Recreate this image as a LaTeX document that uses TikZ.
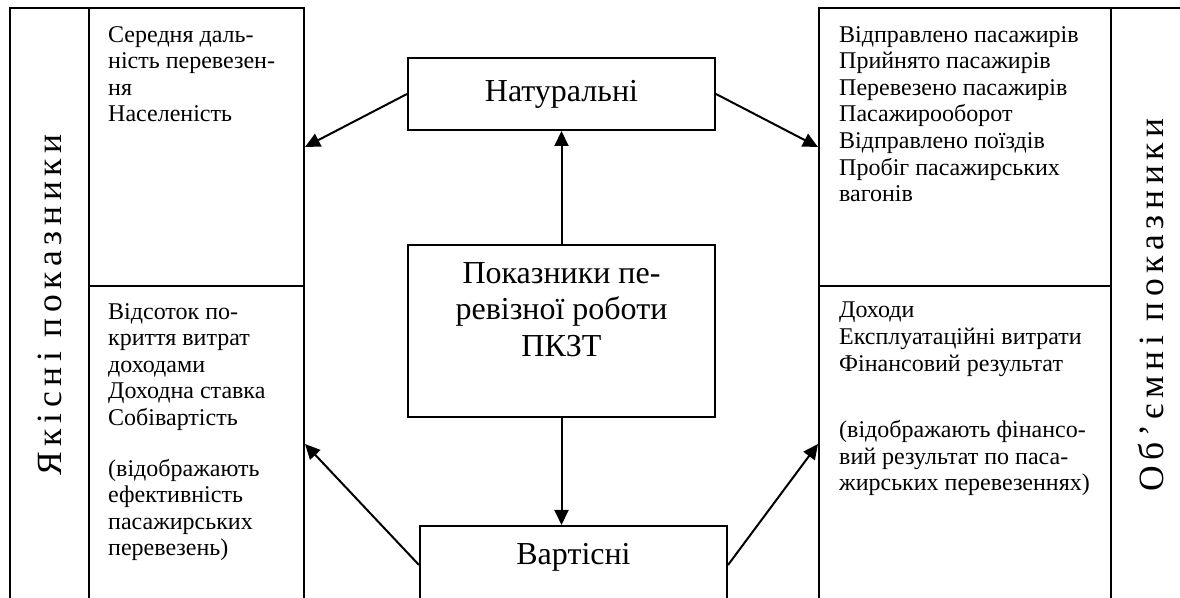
\documentclass[tikz,border=0pt]{standalone}
\usepackage{fontspec}
\setmainfont{Liberation Serif}
\newfontfamily\spacedfont[LetterSpace=16]{Liberation Serif}
\usetikzlibrary{arrows.meta, positioning, calc}

\tikzset{
  cell/.style={draw, line width=2bp, inner sep=0pt},
  sidecell/.style={cell, minimum width=79bp, minimum height=594bp,
    font=\fontsize{35.5bp}{40bp}\spacedfont},
  listtext/.style={anchor=north west, inner sep=0pt, align=left,
    font=\fontsize{24bp}{26.6bp}\selectfont},
  bigbox/.style={cell, minimum width=307bp},
  bigtext/.style={inner sep=0pt, align=center,
    font=\fontsize{32bp}{36.5bp}\selectfont},
  arr/.style={line width=2bp, -{Triangle[length=15bp,width=14bp]}}
}

\begin{document}
\begin{tikzpicture}[x=1bp, y=1bp]
  \useasboundingbox (0,0) rectangle (1180,598);
  \clip (0,0) rectangle (1180,598);

  % side columns
  \node[sidecell] (yakisni) at (49.5,293) {\rotatebox{90}{Якісні показники}};
  \node[sidecell] (obiemni) at (1150.5,293) {\rotatebox{90}{Об’ємні показники}};

  % list cells
  \node[cell, minimum width=215bp, minimum height=278bp] (yakisnitop) at (196.5,451) {};
  \node[cell, minimum width=215bp, minimum height=316bp] (yakisnibot) at (196.5,154) {};
  \node[cell, minimum width=292bp, minimum height=278bp] (obiemnitop) at (965,451) {};
  \node[cell, minimum width=292bp, minimum height=316bp] (obiemnibot) at (965,154) {};

  \node[listtext] (yakisnitoptext) at ([xshift=20bp,yshift=-19bp]yakisnitop.north west)
    {Середня даль-\\ність перевезен-\\ня\\Населеність};
  \node[listtext] (yakisnibottext) at ([xshift=20bp,yshift=-18bp]yakisnibot.north west)
    {Відсоток по-\\криття витрат\\доходами\\Доходна ставка\\Собівартість\\[24bp]
     (відображають\\ефективність\\пасажирських\\перевезень)};
  \node[listtext] (obiemnitoptext) at ([xshift=21bp,yshift=-19bp]obiemnitop.north west)
    {Відправлено пасажирів\\Прийнято пасажирів\\Перевезено пасажирів\\Пасажирооборот\\
     Відправлено поїздів\\Пробіг пасажирських\\вагонів};
  \node[listtext] (obiemnibottext) at ([xshift=21bp,yshift=-17bp]obiemnibot.north west)
    {Доходи\\Експлуатаційні витрати\\Фінансовий результат\\[40bp]
     (відображають фінансо-\\вий результат по паса-\\жирських перевезеннях)};

  % middle column
  \node[bigbox, minimum height=72bp, bigtext] (naturalni) at (561.5,504) {Натуральні};
  \node[bigbox, minimum height=172bp] (pokaznyky) at (561.5,267) {};
  \node[bigtext, anchor=north] (pokaznykytext) at ([yshift=-18bp]pokaznyky.north)
    {Показники пе-\\ревізної роботи\\ПКЗТ};
  \node[bigbox, minimum height=78bp, anchor=north] (vartisni) at (573.5,73) {};
  \node[bigtext, anchor=base] (vartisnitext) at ([yshift=-40bp]vartisni.north) {Вартісні};

  % arrows
  \draw[arr] (pokaznyky.north) -- (naturalni.south);
  \draw[arr] (pokaznyky.south) -- (pokaznyky.south |- vartisni.north);
  \draw[arr] (naturalni.west) -- (yakisnitop.east);
  \draw[arr] (naturalni.east) -- (obiemnitop.west);
  \draw[arr] (vartisni.west) -- (yakisnibot.east);
  \draw[arr] (vartisni.east) -- (obiemnibot.west);
\end{tikzpicture}
\end{document}
